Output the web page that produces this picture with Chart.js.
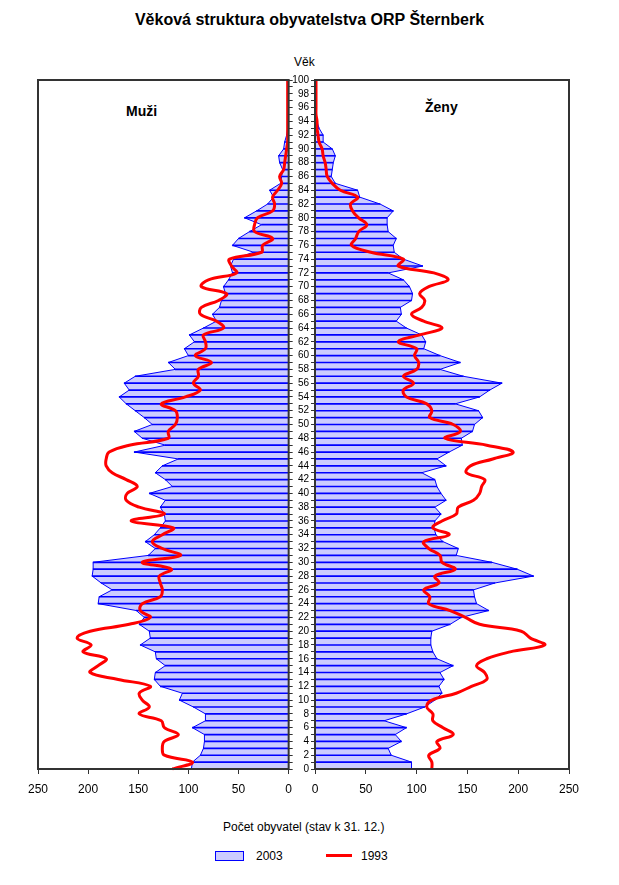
<!DOCTYPE html>
<html><head><meta charset="utf-8">
<script src="https://cdn.jsdelivr.net/npm/chart.js@4.4.1/dist/chart.umd.min.js"></script>
<style>
body{margin:0;background:#fff;width:619px;height:885px;position:relative;overflow:hidden;font-family:"Liberation Sans",Arial,sans-serif;}
.t{position:absolute;white-space:nowrap;color:#000;line-height:1}
canvas{position:absolute;top:0}
</style></head><body>
<div class="t" style="left:0;width:619px;text-align:center;top:12px;font-size:16px;font-weight:bold">Věková struktura obyvatelstva ORP Šternberk</div>
<div class="t" style="left:294px;top:56px;font-size:12px">Věk</div>
<div class="t" style="left:126px;top:104px;font-size:14px;font-weight:bold">Muži</div>
<div class="t" style="left:425px;top:100px;font-size:14px;font-weight:bold">Ženy</div>
<div class="t" style="left:223px;top:821px;font-size:12px">Počet obyvatel (stav k 31. 12.)</div>
<div style="position:absolute;left:215px;top:851px;width:27px;height:8px;background:#ccccff;border:1px solid #0000ff"></div>
<div class="t" style="left:256px;top:850px;font-size:12px">2003</div>
<div style="position:absolute;left:326px;top:854px;width:26px;height:3px;background:#ff0000"></div>
<div class="t" style="left:361px;top:850px;font-size:12px">1993</div>
<canvas id="cl" width="300" height="885" style="left:0"></canvas>
<canvas id="cr" width="328" height="885" style="left:291px"></canvas>
<script>
const ages = [0,1,2,3,4,5,6,7,8,9,10,11,12,13,14,15,16,17,18,19,20,21,22,23,24,25,26,27,28,29,30,31,32,33,34,35,36,37,38,39,40,41,42,43,44,45,46,47,48,49,50,51,52,53,54,55,56,57,58,59,60,61,62,63,64,65,66,67,68,69,70,71,72,73,74,75,76,77,78,79,80,81,82,83,84,85,86,87,88,89,90,91,92,93,94,95,96,97,98,99,100];

const men2003 = [97,96,88,85,84,84,96,83,83,95,109,106,128,134,133,123,132,133,148,138,139,149,144,152,190,189,176,187,196,195,195,140,133,143,134,128,123,124,128,123,139,116,123,133,126,110,154,123,146,154,136,144,153,162,169,159,164,153,113,120,100,104,94,99,85,72,76,69,67,63,65,60,56,58,55,35,56,50,39,27,44,32,21,15,19,8,7,6,9,10,5,4,2,1,1,1,0,0,0,0,0];

const men1993 = [116,96,124,126,124,110,124,127,149,139,146,149,138,170,198,190,182,205,197,211,198,159,138,148,146,128,126,128,129,117,146,108,126,136,126,115,157,124,149,162,161,151,162,176,182,182,179,159,120,120,113,111,113,127,103,88,95,90,90,77,93,83,83,85,65,72,88,87,70,62,87,80,52,57,59,27,26,16,34,34,31,16,14,16,11,7,9,5,4,3,2,1,1,1,1,1,1,1,1,1,1];

const women2003 = [95,95,75,72,85,79,90,68,90,108,118,125,122,127,123,136,120,116,114,114,115,133,144,171,159,157,156,177,215,199,174,139,141,126,119,117,118,124,118,129,124,120,118,105,129,120,132,145,144,155,157,165,161,138,162,172,184,146,123,143,123,107,109,105,90,80,85,84,95,96,93,87,72,106,87,78,77,80,72,71,71,77,64,44,42,20,16,17,18,20,17,8,8,4,2,0,0,0,0,0,0];

const women1993 = [115,115,112,123,120,136,126,116,116,110,115,139,154,169,167,159,169,192,226,212,203,162,148,133,112,113,107,122,118,138,125,123,112,107,132,116,125,139,141,156,162,164,167,149,153,175,195,169,128,143,136,113,115,110,90,87,97,87,100,102,98,100,82,103,125,107,95,105,108,103,112,131,117,82,87,55,36,40,43,51,43,37,35,42,25,17,12,11,10,8,7,4,3,2,2,1,1,1,1,1,1];

Chart.defaults.font.family = "'Liberation Sans', Arial, sans-serif";

const frame = {
  id: 'frame',
  afterDraw(c) {
    const a = c.chartArea, ctx = c.ctx;
    ctx.save();
    ctx.strokeStyle = '#333';
    ctx.lineWidth = 2;
    ctx.strokeRect(a.left, a.top, a.right - a.left, a.bottom - a.top);
    ctx.restore();
  }
};

function makeChart(id, v2003, v1993, isLeft) {
  return new Chart(document.getElementById(id), {
    type: 'bar',
    data: {
      labels: ages,
      datasets: [
        {type: 'line', label: '1993', data: v1993, borderColor: '#ff0000', borderWidth: 3, pointRadius: 0, tension: 0.4, fill: false, order: 0},
        {type: 'bar', label: '2003 lines', data: v2003, backgroundColor: '#0000ff', barThickness: 1, order: 1},
        {type: 'line', label: '2003', data: v2003, borderColor: '#0000ff', borderWidth: 1, backgroundColor: '#ccccff', pointRadius: 0, tension: 0, fill: 'origin', order: 2}
      ]
    },
    options: {
      indexAxis: 'y',
      responsive: false,
      animation: false,
      layout: {padding: isLeft ? {left: 38, right: 0, top: 80, bottom: 76} : {left: 0, right: 50, top: 80, bottom: 76}},
      plugins: {legend: {display: false}, tooltip: {enabled: false}},
      scales: {
        x: {
          type: 'linear', min: 0, max: 250, reverse: isLeft,
          ticks: {stepSize: 50, font: {size: 12}, color: '#000', padding: 8, maxRotation: 0},
          grid: {drawOnChartArea: false, tickLength: 5, color: '#333'},
          border: {display: false},
          afterFit: s => { s.height = 40; }
        },
        y: {
          type: 'category', reverse: true, offset: false,
          position: isLeft ? 'right' : 'left',
          ticks: {autoSkip: false, display: !isLeft, font: {size: 10}, color: '#000', padding: 2,
                  callback: (v, i) => (ages[i] % 2 === 0 ? String(ages[i]) : '')},
          grid: {drawOnChartArea: false, tickLength: 4, color: '#333', offset: false},
          border: {display: false},
          afterFit: s => { s.width = isLeft ? 9 : 24; }
        }
      }
    },
    plugins: [frame]
  });
}

makeChart('cl', men2003, men1993, true);
makeChart('cr', women2003, women1993, false);
</script>
</body></html>
